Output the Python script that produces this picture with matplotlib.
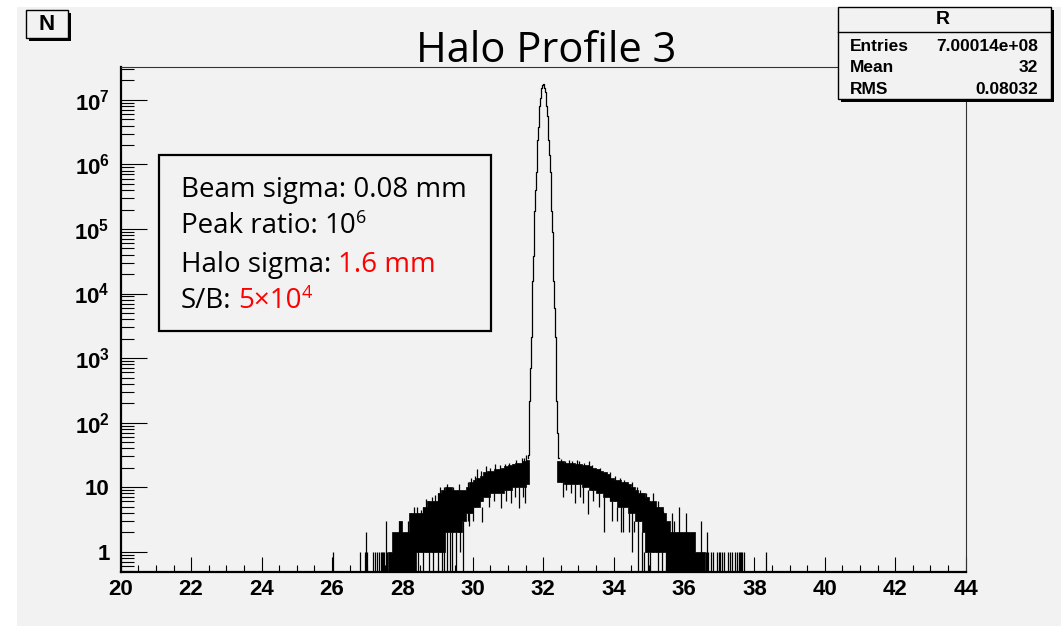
import numpy as np
import matplotlib

matplotlib.use("Agg")
import matplotlib.pyplot as plt
from matplotlib.patches import Rectangle
from matplotlib.ticker import FixedLocator, MultipleLocator, LogLocator, NullFormatter

plt.rcParams["mathtext.fontset"] = "custom"
plt.rcParams["mathtext.bf"] = "Liberation Sans:bold"
plt.rcParams["mathtext.rm"] = "Liberation Sans:bold"

W, H = 1061, 626
BG = "#f2f2f2"
TICK_FONT = dict(family="Liberation Sans", weight="bold")
BOX_FONT = "Open Sans"

# --- beam core: bin centres (mm) and counts --------------------------------
peak_x = np.round(np.arange(31.56, 32.441, 0.02), 2)
peak_n = [28, 32, 70, 220, 700, 2100, 5900, 15500, 38000, 89000, 1.9e5,
          4.0e5, 7.7e5, 1.4e6, 2.4e6, 3.8e6, 5.7e6, 8.0e6, 1.06e7, 1.32e7,
          1.54e7, 1.70e7, 1.75e7, 1.70e7, 1.54e7, 1.32e7, 1.06e7, 8.0e6,
          5.7e6, 3.8e6, 2.4e6, 1.4e6, 7.7e5, 4.0e5, 1.9e5, 89000, 38000,
          15500, 5900, 2100, 700, 220, 70, 32, 28]

# --- halo: noisy band, lowest / highest bin in each 0.1 mm slice -----------
left_edges = np.round(np.arange(27.6, 31.61, 0.1), 2)
left_lo = [0.5, 0.5, 0.5, 0.5, 0.5, 0.5, 0.5, 0.5,
           1, 1, 1, 1, 1, 1, 1, 1,
           2, 2, 2, 2, 2, 3, 4, 4, 5, 5, 6, 7, 7, 8, 8, 8, 8, 9, 9, 10,
           10, 10, 10, 11]
left_hi = [1, 2, 2, 3, 2, 2, 4, 4, 4, 4, 5, 6, 6, 6, 8, 9, 10, 10, 9, 9,
           9, 9, 10, 12, 13, 14, 15, 17, 18, 18, 19, 19, 20, 21, 22, 23,
           24, 24, 25, 26]

right_edges = np.round(np.arange(32.4, 36.61, 0.1), 2)
right_lo = [12, 12, 11, 11, 11, 11, 11, 10, 10, 9, 9, 8, 8, 7, 7, 6, 6, 5,
            5, 5, 4, 4, 3, 3, 2, 1, 1, 1, 1, 1, 1,
            0.5, 0.5, 0.5, 0.5, 0.5, 0.5, 0.5, 0.5, 0.5, 0.5, 0.5]
right_hi = [25, 25, 24, 24, 24, 23, 23, 22, 22, 21, 20, 19, 18, 17, 16, 14,
            13, 13, 12, 12, 11, 10, 9, 8, 8, 7, 6, 6, 5, 5, 4, 3, 2, 2, 2,
            2, 2, 2, 2, 1, 1, 1]

# isolated bins in the far tails (x, counts)
tail_x = [26.03, 26.80, 26.93, 26.97, 27.00, 27.16, 27.21, 27.27, 27.33,
          27.39, 27.42, 27.45, 27.48, 27.53, 27.57,
          36.62, 36.66, 36.69, 36.76, 36.83, 36.93, 36.98, 37.03, 37.07,
          37.14, 37.26, 37.31, 37.37, 37.45, 37.50, 37.55, 37.60, 37.63,
          37.66, 37.70, 38.33]
tail_n = [1, 1, 1, 2, 1, 1, 1, 1, 1, 1, 1, 1, 1, 3, 1,
          1, 2, 1, 1, 1, 1, 1, 1, 1, 1, 1, 1, 1, 1, 1, 1, 1, 1, 1, 1, 1]

# single bins poking out of the band (x, from, to); 0.5 = empty bin
spike_x = [27.90, 28.15, 28.25, 28.33, 28.42, 28.45, 28.52, 28.58, 28.60,
           28.68, 28.74, 28.75, 28.83, 28.86, 28.93, 29.00, 29.02, 29.08,
           29.12, 29.17, 29.18, 29.26, 29.28, 29.34, 29.40, 29.45, 29.52,
           29.62, 29.65, 29.73, 29.85, 29.88, 29.95, 30.00, 30.05, 30.13,
           30.22, 30.25, 30.38, 30.45, 30.50, 30.60, 30.63, 30.77, 30.80,
           30.92, 30.95, 31.02, 31.08, 31.13, 31.20, 31.22, 31.32, 31.39,
           31.42, 31.45, 31.48, 31.51,
           32.50, 32.55, 32.62, 32.65, 32.72, 32.78, 32.81, 32.90, 32.95,
           33.02, 33.05, 33.12, 33.15, 33.28, 33.30, 33.40, 33.42, 33.52,
           33.58, 33.62, 33.73, 33.80, 33.90, 33.95, 34.05, 34.10, 34.18,
           34.20, 34.28, 34.30, 34.42, 34.45, 34.52, 34.59, 34.66, 34.68,
           34.74, 34.80, 34.82, 34.87, 34.92, 34.97, 35.02, 35.11, 35.20,
           35.25, 35.27, 35.30, 35.37, 35.40, 35.49, 35.67, 35.72, 35.87,
           36.06, 36.47]
spike_lo = [0.5, 0.5, 0.5, 0.5, 1, 0.5, 1, 0.5, 1,
            1, 1, 0.5, 1, 0.5, 1, 0.5, 1, 1,
            0.5, 2, 0.5, 0.5, 2, 0.5, 0.5, 2, 0.5,
            2, 1, 0.5, 3, 2.5, 4, 3, 5, 10,
            6, 2.9, 12, 5, 8, 6, 14, 14, 4.7,
            9, 6, 10, 5.6, 16, 7, 10, 4.7, 18,
            7, 11, 5.6, 18,
            12, 7, 18, 9, 12, 8, 18, 5.6, 11,
            18, 7, 5.6, 10, 3.9, 18, 9, 6, 14,
            5, 8, 2, 12, 6, 3, 6, 3, 10,
            2, 2, 5, 8, 2, 1, 2, 7, 0.5,
            3, 4, 0.5, 0.5, 1, 0.5, 0.5, 1, 1,
            1, 0.5, 1, 0.5, 1, 0.5, 0.5, 0.5, 0.5,
            0.5, 0.5]
spike_hi = [3, 3, 4, 5, 5, 1, 4.5, 1, 5,
            6.5, 6, 1, 7, 2, 7.5, 1, 8, 10,
            2, 10, 2, 2, 11, 2, 2, 10, 2,
            11, 3, 3, 12, 4, 14, 5, 15, 19,
            18, 5, 21, 7, 20, 8, 23, 22, 8,
            23, 9, 24, 10, 23, 10, 26, 10, 28,
            10, 28, 11, 31,
            27, 12, 25, 12, 26, 11, 25, 11, 26,
            25, 11, 10, 24, 9, 25, 22, 9, 19,
            8, 20, 7, 16, 17, 6, 15, 5, 14,
            6, 5, 13, 11, 4, 12, 3, 10, 3,
            9, 8, 2, 1, 8, 1, 1, 8, 5,
            6, 1, 5, 1, 4.2, 1, 4, 3, 5,
            4, 3]

stats_rows = [("Entries", "7.00014e+08"), ("Mean", "32"), ("RMS", "0.08032")]


def fx(x):
    return x / W


def fy(y):
    return 1 - y / H


fig = plt.figure(figsize=(W / 100, H / 100), dpi=100, facecolor="white")
fig.patches.append(Rectangle((fx(17), 0), 1 - fx(17), fy(7), transform=fig.transFigure,
                             facecolor=BG, edgecolor="none", zorder=-10))

ax = fig.add_axes([fx(120.7), fy(571.7), fx(965.7) - fx(120.7), fy(66.7) - fy(571.7)])
ax.set_facecolor(BG)
ax.set_yscale("log")
ax.set_xlim(20, 44)
ax.set_ylim(0.49, 3.27e7)

# halo band, isolated bins and spikes
for edges, lo, hi in [(left_edges, left_lo, left_hi), (right_edges, right_lo, right_hi)]:
    ax.fill_between(edges, lo + [lo[-1]], hi + [hi[-1]], step="post",
                    facecolor="black", edgecolor="black", linewidth=0.5)
ax.vlines(tail_x, 0.49, tail_n, color="black", linewidth=0.9)
ax.vlines(spike_x, spike_lo, spike_hi, color="black", linewidth=0.9)

# beam core
ax.step(peak_x, peak_n, where="mid", color="black", linewidth=0.9)

# axes styling
for side in ["left", "bottom"]:
    ax.spines[side].set_linewidth(1.6)
    ax.spines[side].set_color("black")
for side in ["top", "right"]:
    ax.spines[side].set_linewidth(0.8)
    ax.spines[side].set_color("#333333")

ax.xaxis.set_major_locator(MultipleLocator(2))
ax.xaxis.set_minor_locator(MultipleLocator(0.5))
ax.yaxis.set_major_locator(FixedLocator([10.0 ** k for k in range(8)]))
ax.yaxis.set_minor_locator(LogLocator(base=10, subs=np.arange(2, 10), numticks=20))
ax.yaxis.set_minor_formatter(NullFormatter())
ylabels = ["1", "10"] + [r"$\mathbf{10^{%d}}$" % k for k in range(2, 8)]
ax.set_yticklabels(ylabels)
ax.set_xticks(np.arange(20, 45, 2))
ax.set_xticklabels([str(v) for v in range(20, 45, 2)])

ax.tick_params(axis="x", which="major", direction="in", length=10.8, width=0.8,
               top=False, pad=5, labelsize=16)
ax.tick_params(axis="x", which="minor", direction="in", length=5.2, width=0.8, top=False)
ax.tick_params(axis="y", which="major", direction="in", length=18.7, width=0.8,
               right=False, pad=8, labelsize=16)
ax.tick_params(axis="y", which="minor", direction="in", length=9.4, width=0.8, right=False)
for lab in ax.get_xticklabels() + ax.get_yticklabels():
    lab.set_fontfamily("Liberation Sans")
    lab.set_fontweight("bold")

# title
fig.text(fx(546), fy(62), "Halo Profile 3", fontsize=30, family=BOX_FONT,
         ha="center", va="baseline")

# "N" label box
fig.patches.append(Rectangle((fx(29), fy(41)), fx(42), 28 / H, transform=fig.transFigure,
                             facecolor="black", edgecolor="none", zorder=5))
fig.patches.append(Rectangle((fx(26), fy(38)), fx(42), 28 / H, transform=fig.transFigure,
                             facecolor=BG, edgecolor="black", linewidth=1.0, zorder=6))
fig.text(fx(47), fy(24), "N", fontsize=16, ha="center", va="center", zorder=7, **TICK_FONT)

# statistics box
sx0, sx1, sy0, sy1 = 838, 1051, 7, 99
fig.patches.append(Rectangle((fx(sx0 + 3), fy(sy1 + 3)), fx(sx1 - sx0), (sy1 - sy0) / H,
                             transform=fig.transFigure, facecolor="black",
                             edgecolor="none", zorder=5))
fig.patches.append(Rectangle((fx(sx0), fy(sy1)), fx(sx1 - sx0), (sy1 - sy0) / H,
                             transform=fig.transFigure, facecolor=BG,
                             edgecolor="black", linewidth=1.0, zorder=6))
fig.lines.append(plt.Line2D([fx(sx0), fx(sx1)], [fy(32.3), fy(32.3)],
                            transform=fig.transFigure, color="black", linewidth=1.0, zorder=7))
fig.text(fx(943), fy(19.5), "R", fontsize=14, ha="center", va="center", zorder=7, **TICK_FONT)
for i, (name, val) in enumerate(stats_rows):
    yy = fy(46.7 + i * 21.3)
    fig.text(fx(850), yy, name, fontsize=12.5, ha="left", va="center", zorder=7, **TICK_FONT)
    fig.text(fx(1038), yy, val, fontsize=12.5, ha="right", va="center", zorder=7, **TICK_FONT)

# annotation box
fig.patches.append(Rectangle((fx(159.3), fy(330.7)), fx(490.7 - 159.3), (330.7 - 155) / H,
                             transform=fig.transFigure, facecolor=BG,
                             edgecolor="black", linewidth=1.6, zorder=6))

renderer = fig.canvas.get_renderer()


def put_runs(x, y, runs):
    """Write text pieces one after another on a common baseline."""
    for s, color, size, rise, gap in runs:
        x += gap
        t = fig.text(fx(x), fy(y + rise), s, fontsize=size, family=BOX_FONT,
                     color=color, ha="left", va="baseline", zorder=7)
        x += t.get_window_extent(renderer).width


RED = "#ff0000"
put_runs(180.7, 196.7, [("Beam sigma: 0.08 mm", "black", 20, 0, 0)])
put_runs(180.7, 233.3, [("Peak ratio:", "black", 20, 0, 0), ("10", "black", 20, 0, 7),
                        ("6", "black", 13, -10, 0)])
put_runs(180.7, 271.7, [("Halo sigma:", "black", 20, 0, 0), ("1.6 mm", RED, 20, 0, 7)])
put_runs(180.7, 308.3, [("S/B:", "black", 20, 0, 0), ("5\u00d710", RED, 20, 0, 7),
                        ("4", RED, 13, -10, 0)])

fig.savefig("out.png", dpi=100, facecolor="white")
